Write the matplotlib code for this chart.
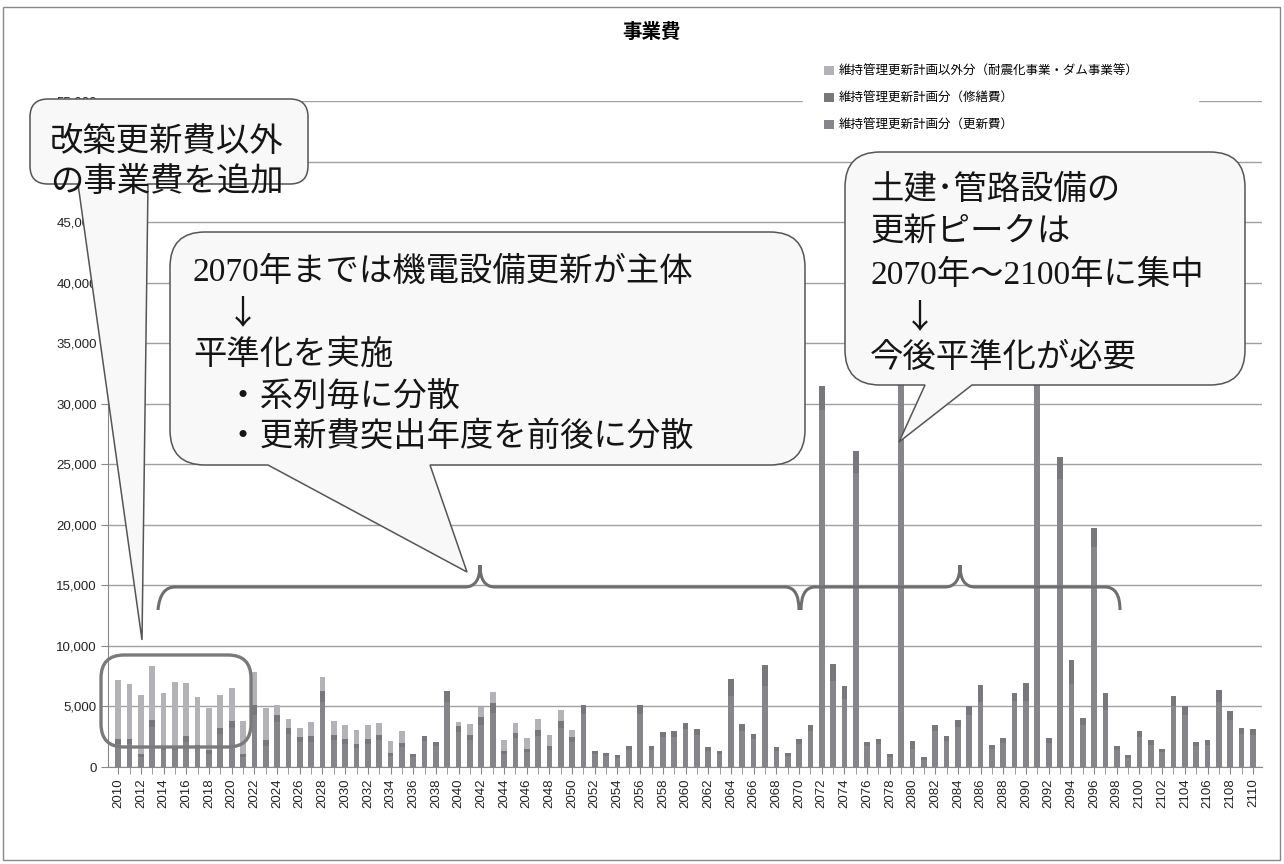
import matplotlib
matplotlib.use("Agg")
import matplotlib.pyplot as plt
import numpy as np
from matplotlib.path import Path
from matplotlib.patches import PathPatch, Rectangle, FancyBboxPatch

# data (unit: 百万円)
years = np.arange(2010, 2111)

# 維持管理更新計画分（更新費）
koushin = [
    1900, 1900, 800, 3300, 1400, 1400, 2100, 1500, 1100, 2700,
    3200, 800, 4330, 1750, 3700, 2700, 2050, 2100, 5400, 2200,
    1900, 1550, 1900, 2200, 900, 1650, 800, 2150, 1700, 5400,
    2900, 2200, 3500, 4500, 1050, 2400, 1200, 2600, 1400, 3250,
    2100, 4400, 1050, 900, 780, 1400, 4400, 1400, 2450, 2500,
    3100, 2650, 1350, 1050, 5830, 3000, 2300, 6720, 1350, 900,
    1900, 2950, 29500, 7100, 5600, 24300, 1700, 1900, 850, 36000,
    1520, 600, 2950, 2150, 3300, 4300, 5340, 1450, 2000, 5420,
    5430, 38000, 2000, 23800, 6820, 3450, 18200, 4740, 1400, 780,
    2500, 1850, 1200, 5000, 4300, 1700, 1850, 5400, 3900, 2700,
    2650,
]
# 維持管理更新計画分（修繕費）
shuzen = [
    440, 440, 300, 600, 360, 360, 490, 340, 330, 545,
    620, 300, 820, 450, 630, 545, 460, 490, 900, 470,
    440, 375, 440, 470, 280, 360, 300, 440, 400, 900,
    510, 470, 650, 820, 300, 440, 310, 480, 360, 570,
    410, 750, 300, 280, 240, 360, 750, 360, 470, 490,
    560, 510, 330, 300, 1470, 570, 460, 1730, 330, 280,
    440, 540, 2000, 1440, 1120, 1800, 400, 440, 250, 2000,
    660, 190, 540, 440, 600, 770, 1460, 390, 430, 720,
    1540, 2000, 430, 1800, 1980, 600, 1500, 1400, 360, 240,
    500, 410, 310, 890, 770, 400, 410, 990, 760, 540,
    510,
]
# 維持管理更新計画以外分（耐震化事業・ダム事業等）
igai = [
    4875, 4545, 4875, 4470, 4380, 5290, 4380, 3970, 3470, 2730,
    2730, 2720, 2730, 2700, 820, 755, 735, 1150, 1170, 1150,
    1150, 1155, 1150, 990, 1000, 990, 0, 0, 0, 0,
    330, 900, 830, 900, 910, 820, 920, 920, 910, 920,
    570,
] + [0] * 60

labels = ["維持管理更新計画分（更新費）", "維持管理更新計画分（修繕費）",
          "維持管理更新計画以外分（耐震化事業・ダム事業等）"]
colors = ["#85858a", "#77777c", "#b3b3b7"]

W, H = 1284, 864
JP = ["Noto Sans CJK JP", "DejaVu Sans"]
MIX = ["Liberation Serif", "Noto Sans CJK JP", "DejaVu Sans"]

fig = plt.figure(figsize=(W / 100, H / 100), dpi=100)
ax = fig.add_axes([108 / W, 1 - 767 / H, (1262 - 108) / W, (767 - 101) / H])

k = np.array(koushin)
s = np.array(shuzen)
g = np.array(igai)
b1 = ax.bar(years, k, width=0.5, color=colors[0], label=labels[0])
b2 = ax.bar(years, s, bottom=k, width=0.5, color=colors[1], label=labels[1])
b3 = ax.bar(years, g, bottom=k + s, width=0.5, color=colors[2], label=labels[2])

ax.set_xlim(2009.1, 2110.8)
ax.set_ylim(0, 55000)
yt = list(range(0, 55001, 5000))
ax.set_yticks(yt)
# 50,000 sits fully under the first callout in the picture
ax.set_yticklabels(["" if v == 50000 else f"{v:,}" for v in yt],
                   fontsize=9.5, family="Liberation Sans", color="#222")
ax.set_xticks(years[::2])
ax.set_xticks(years, minor=True)
ax.set_xticklabels([str(y) for y in years[::2]], rotation=90,
                   fontsize=9.5, family="Liberation Sans", color="#222")
ax.tick_params(axis="both", which="both", length=5, color="#888", pad=3)
ax.yaxis.grid(True, color="#a0a0a0", lw=1)
ax.set_axisbelow(True)
for sp in ["top", "right"]:
    ax.spines[sp].set_visible(False)
for sp in ["left", "bottom"]:
    ax.spines[sp].set_color("#888")

fig.text(652 / W, 1 - 32 / H, "事業費", ha="center", va="center",
         fontsize=14, weight="bold", family=JP)


def fx(pts):
    return [(x / W, 1 - y / H) for x, y in pts]


# legend on a white patch that hides the top gridline
fig.add_artist(Rectangle(fx([(803, 135)])[0], 395 / W, 85 / H,
                         transform=fig.transFigure, color="white", zorder=2))
leg = fig.legend(handles=[b3, b2, b1], labels=[labels[2], labels[1], labels[0]],
                 loc="upper left", bbox_to_anchor=(818 / W, 1 - 59 / H),
                 frameon=False, prop={"family": JP, "size": 9},
                 handlelength=0.75, handleheight=0.75, handletextpad=0.4,
                 labelspacing=1.12, borderpad=0)


def callout(x0, y0, x1, y1, r, ba, bb, tip):
    pts = [(x0 + r, y0), (x1 - r, y0), (x1, y0), (x1, y0 + r), (x1, y1 - r),
           (x1, y1), (x1 - r, y1), (bb, y1), tip, (ba, y1), (x0 + r, y1),
           (x0, y1), (x0, y1 - r), (x0, y0 + r), (x0, y0), (x0 + r, y0), (0, 0)]
    codes = [Path.MOVETO, Path.LINETO, Path.CURVE3, Path.CURVE3, Path.LINETO,
             Path.CURVE3, Path.CURVE3, Path.LINETO, Path.LINETO, Path.LINETO,
             Path.LINETO, Path.CURVE3, Path.CURVE3, Path.LINETO, Path.CURVE3,
             Path.CURVE3, Path.CLOSEPOLY]
    p = PathPatch(Path(fx(pts), codes), transform=fig.transFigure,
                  facecolor="#f8f8f8", edgecolor="#555", lw=1.1, zorder=6)
    fig.add_artist(p)


def lines(x, ys, texts, fam):
    for y, t in zip(ys, texts):
        f = JP if "↓" in t else fam
        fig.text(x / W, 1 - y / H, t, ha="left", va="center", fontsize=24,
                 family=f, color="#151515", zorder=7)


callout(30, 99, 308, 184, 18, 78, 148, (142, 640))
lines(50, [142, 182], ["改築更新費以外", "の事業費を追加"], JP)

callout(170, 232, 805, 465, 35, 268, 430, (467, 572))
lines(193, [272, 314, 355, 397, 437],
      ["2070年までは機電設備更新が主体", "　↓", "平準化を実施",
       "　・系列毎に分散", "　・更新費突出年度を前後に分散"], MIX)

callout(845, 152, 1245, 385, 35, 925, 972, (899, 442))
lines(870, [190, 232, 275, 318, 358],
      ["土建･管路設備の", "更新ピークは", "2070年～2100年に集中", "　↓",
       "今後平準化が必要"], MIX)

# braces
C3, L, M = Path.CURVE3, Path.LINETO, Path.MOVETO
br1 = [(158, 610), (160, 587), (175, 587), (465, 587), (480, 587), (480, 565),
       (480, 587), (495, 587), (785, 587), (799, 587), (799, 610)]
br2 = [(801, 610), (801, 587), (815, 587), (945, 587), (960, 587), (960, 565),
       (960, 587), (975, 587), (1105, 587), (1120, 587), (1120, 610)]
bc = [M, C3, C3, L, C3, C3, C3, C3, L, C3, C3]
for br in (br1, br2):
    fig.add_artist(PathPatch(Path(fx(br), bc), transform=fig.transFigure,
                             facecolor="none", edgecolor="#6e6e6e", lw=2.2,
                             zorder=5))

# highlight box round early years
fig.add_artist(FancyBboxPatch(fx([(101, 747)])[0], 150 / W, 92 / H,
                              boxstyle="round,pad=0,rounding_size=0.018",
                              transform=fig.transFigure, facecolor="none",
                              edgecolor="#7a7a7a", lw=2.4, zorder=5,
                              mutation_aspect=W / H))

# outer frame
fig.add_artist(Rectangle((3 / W, 4 / H), 1277 / W, 853 / H, transform=fig.transFigure,
                         facecolor="none", edgecolor="#888", lw=1, zorder=0))

fig.savefig("out.png", dpi=100)
